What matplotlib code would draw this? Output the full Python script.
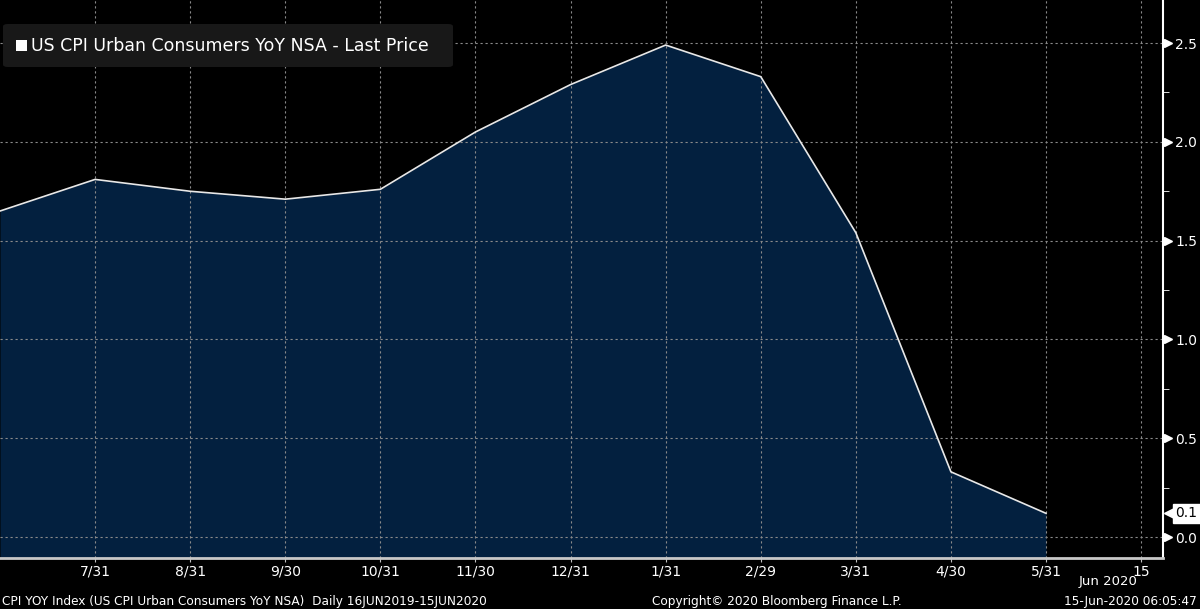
import numpy as np
import matplotlib
matplotlib.use('Agg')
import matplotlib.pyplot as plt
from matplotlib.patches import FancyBboxPatch, Rectangle
import matplotlib.transforms as mtransforms

# Monthly CPI YoY readings (Jun 2019 .. May 2020), equal spacing per month
months = ['6/30', '7/31', '8/31', '9/30', '10/31', '11/30', '12/31',
          '1/31', '2/29', '3/31', '4/30', '5/31']
cpi_yoy = [1.65, 1.81, 1.75, 1.71, 1.76, 2.05, 2.29, 2.49, 2.33, 1.54, 0.33, 0.12]
last_label = '0.1'
tick_labels = months[1:] + ['15']
y_ticks = [0.0, 0.5, 1.0, 1.5, 2.0, 2.5]

plt.rcParams['font.family'] = ['DejaVu Sans']

fig = plt.figure(figsize=(12, 6.09), dpi=100)
fig.patch.set_facecolor('black')
ax = fig.add_axes([0, 51 / 609, 1163 / 1200, 558 / 609])
ax.set_facecolor('black')

x = np.arange(len(cpi_yoy))
y_lo, y_hi = -0.106, 2.718
ax.fill_between(x, cpi_yoy, y_lo, color='#03203f', zorder=1, linewidth=0)
ax.plot(x, cpi_yoy, color='#e8e8e8', linewidth=1.2, zorder=4)

ax.set_xlim(0, 12.23)
ax.set_ylim(y_lo, y_hi)

# grid
tick_pos = np.arange(1, len(tick_labels) + 1)
for xp in tick_pos:
    ax.axvline(xp, color='#8a8a8a', linestyle=(0, (2, 2.5)), linewidth=0.8, zorder=2)
for yv in y_ticks:
    ax.axhline(yv, color='#8a8a8a', linestyle=(0, (2, 2.5)), linewidth=0.8, zorder=2)

# x axis
ax.set_xticks(tick_pos)
ax.set_xticklabels(tick_labels, color='white', fontsize=10)
ax.tick_params(axis='x', length=3, color='#c0c0c0', pad=2)

# right y axis
ax.yaxis.tick_right()
ax.set_yticks(y_ticks)
ax.set_yticklabels([f'{v:.1f}' for v in y_ticks], color='white', fontsize=10)
ax.set_yticks(np.arange(0.25, 2.6, 0.5), minor=True)
ax.tick_params(axis='y', which='major', length=0, pad=9)
ax.tick_params(axis='y', which='minor', length=4, color='white', direction='out')

for s in ['top', 'left']:
    ax.spines[s].set_visible(False)
ax.spines['right'].set_color('white')
ax.spines['right'].set_linewidth(1.5)
ax.spines['bottom'].set_color('#c8c8c8')
ax.spines['bottom'].set_linewidth(2)

# triangle tick markers on right axis
trans = mtransforms.blended_transform_factory(ax.transAxes, ax.transData)
ax.plot([1.004] * len(y_ticks), y_ticks, linestyle='none', marker='>',
        markersize=6, color='white', transform=trans, clip_on=False)

# last value tag: small arrow + white box
tag_arrow = mtransforms.offset_copy(trans, fig=fig, x=8, y=0, units='dots')
ax.plot([1.0], [cpi_yoy[-1]], linestyle='none', marker='<', markersize=10,
        color='white', transform=tag_arrow, clip_on=False)
ax.annotate(last_label, xy=(1.0, cpi_yoy[-1]), xycoords=trans,
            xytext=(9, 0), textcoords='offset points', va='center', ha='left',
            fontsize=10, color='black',
            bbox=dict(boxstyle='square,pad=0.2', fc='white', ec='white'),
            annotation_clip=False)

# legend box
fig.patches.append(FancyBboxPatch((3 / 1200, 1 - 67 / 609), 450 / 1200, 43 / 609,
                                  boxstyle='round,pad=0,rounding_size=0.004',
                                  transform=fig.transFigure, fc='#181818', ec='none'))
fig.patches.append(Rectangle((16 / 1200, 1 - 51 / 609), 11 / 1200, 11 / 609,
                             transform=fig.transFigure, fc='white', ec='none'))
fig.text(31 / 1200, 1 - 46 / 609, 'US CPI Urban Consumers YoY NSA - Last Price',
         color='white', fontsize=12.5, va='center', ha='left')

# footer
fig.text(1108 / 1200, 1 - 581 / 609, 'Jun 2020', color='white', fontsize=9.5,
         ha='center', va='center')
fig.text(2 / 1200, 1 - 601 / 609,
         'CPI YOY Index (US CPI Urban Consumers YoY NSA)  Daily 16JUN2019-15JUN2020',
         color='white', fontsize=8.7, ha='left', va='center')
fig.text(652 / 1200, 1 - 601 / 609, 'Copyright\u00a9 2020 Bloomberg Finance L.P.',
         color='white', fontsize=8.7, ha='left', va='center')
fig.text(1197 / 1200, 1 - 601 / 609, '15-Jun-2020 06:05:47',
         color='white', fontsize=8.7, ha='right', va='center')

fig.savefig('out.png', dpi=100, facecolor='black')
